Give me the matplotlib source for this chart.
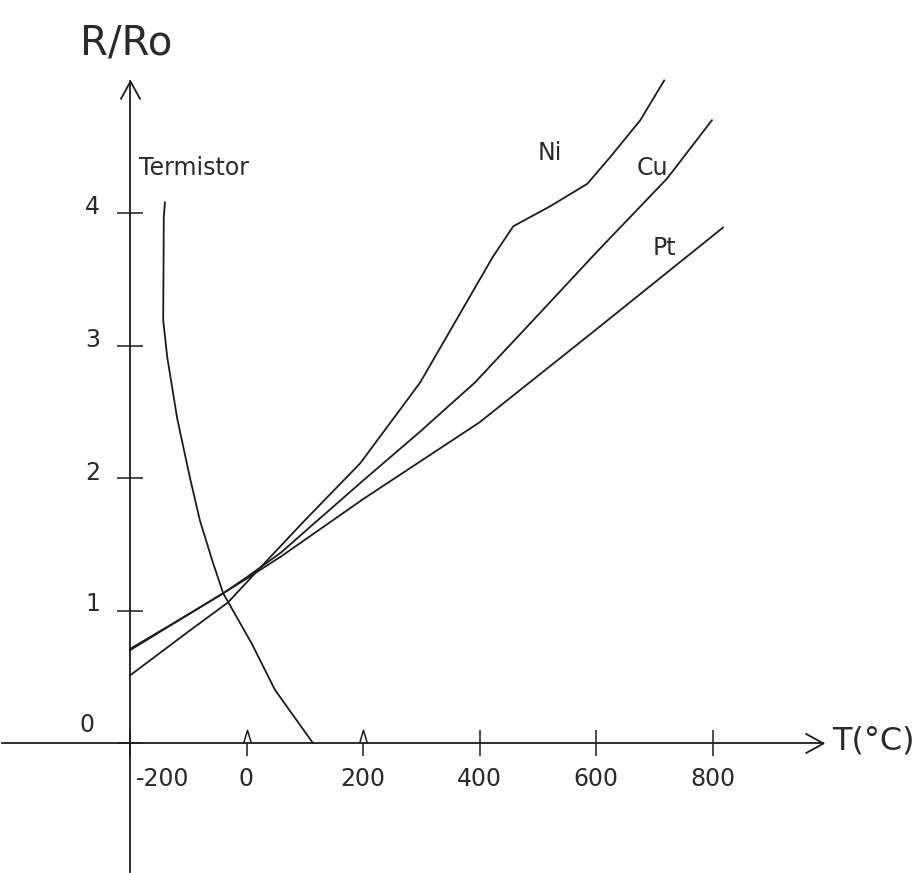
import matplotlib
matplotlib.use("Agg")
import matplotlib.pyplot as plt
from matplotlib.path import Path
from matplotlib.transforms import ScaledTranslation

# ---------------- data ----------------
pt_T = [-200, -100, -40, 0, 60, 200, 400, 600, 818]
pt_R = [0.71, 0.97, 1.13, 1.24, 1.41, 1.84, 2.42, 3.12, 3.89]

cu_T = [-200, -100, -40, 0, 60, 109, 200, 298, 392, 509, 600, 722, 799]
cu_R = [0.70, 0.97, 1.13, 1.25, 1.44, 1.63, 1.98, 2.35, 2.72, 3.27, 3.70, 4.26, 4.70]

ni_T = [-200, -100, -32, 23, 100, 195, 298, 423, 458, 521, 585, 624, 676, 717]
ni_R = [0.51, 0.84, 1.06, 1.32, 1.68, 2.11, 2.72, 3.67, 3.90, 4.05, 4.22, 4.42, 4.70, 5.00]

term_T = [-140, -142, -143, -136, -119, -97, -80, -59, -40, 9, 49, 114]
term_R = [4.08, 3.97, 3.19, 2.91, 2.45, 2.00, 1.68, 1.38, 1.13, 0.75, 0.40, 0.00]

x_major = [-200, 400, 600, 800]
x_major_labels = ["-200", "400", "600", "800"]
x_minor = [0, 200]
x_minor_labels = ["0", "200"]
y_ticks = [0, 1, 2, 3, 4]
y_labels = ["0", "1", "2", "3", "4"]

# ---------------- figure ----------------
W, H, DPI = 921, 873, 100
fig = plt.figure(figsize=(W / DPI, H / DPI), dpi=DPI)
ax = fig.add_axes([0, 0, 1, 1])
ax.set_facecolor("white")

ink = "#1c1c1c"
txt = "#2a2a2a"
lw = 1.3

# pixel mapping: x = 130 + (T+200)*0.5825 ; y = 743 - R*132.5
ax.set_xlim(-200 - 130 / 0.5825, -200 + (W - 130) / 0.5825)
ax.set_ylim(-(H - 743) / 132.5, 743 / 132.5)

for s in ["top", "right"]:
    ax.spines[s].set_visible(False)
ax.spines["left"].set_position(("data", -200))
ax.spines["bottom"].set_position(("data", 0))
ax.spines["left"].set_bounds(-0.97, 5.0)
ax.spines["bottom"].set_bounds(-420, 990)
for s in ["left", "bottom"]:
    ax.spines[s].set_color(ink)
    ax.spines[s].set_linewidth(lw)

# arrow heads (open chevrons)
chev_right = Path([(-1, -0.55), (0, 0), (-1, 0.55)], [Path.MOVETO, Path.LINETO, Path.LINETO])
chev_up = Path([(-0.55, -1), (0, 0), (0.55, -1)], [Path.MOVETO, Path.LINETO, Path.LINETO])
ax.plot([990], [0], marker=chev_right, ms=26, mfc="none", mec=ink, mew=lw, clip_on=False)
ax.plot([-200], [5.0], marker=chev_up, ms=26, mfc="none", mec=ink, mew=lw, clip_on=False)

# x ticks
ax.set_xticks(x_major)
ax.set_xticklabels(x_major_labels)
ax.set_xticks(x_minor, minor=True)
ax.set_xticklabels(x_minor_labels, minor=True)
ax.tick_params(axis="x", which="major", direction="inout", length=19, width=1.1,
               color=ink, labelsize=17, labelcolor=txt, pad=8)
ax.tick_params(axis="x", which="minor", direction="out", length=9, width=1.1,
               color=ink, labelsize=17, labelcolor=txt, pad=8.5)
caret = Path([(-0.3, 0), (0, 1), (0.3, 0)], [Path.MOVETO, Path.LINETO, Path.LINETO])
ax.plot(x_minor, [0] * len(x_minor), ls="none", marker=caret, ms=19, mfc="none",
        mec=ink, mew=1.1)
first = ax.get_xticklabels()[0]
first.set_horizontalalignment("left")
first.set_transform(first.get_transform() + ScaledTranslation(6 / DPI, 0, fig.dpi_scale_trans))

# y ticks
ax.set_yticks(y_ticks)
ax.set_yticklabels(y_labels)
ax.tick_params(axis="y", direction="inout", length=19, width=1.1, color=ink,
               labelsize=17, labelcolor=txt, pad=12)
for lab, (dx, dy) in zip(ax.get_yticklabels(), [(-6, 21), (0, 9), (0, 8), (0, 8), (0, 8)]):
    lab.set_transform(lab.get_transform() + ScaledTranslation(dx / DPI, dy / DPI, fig.dpi_scale_trans))

# curves
ax.plot(pt_T, pt_R, color=ink, lw=lw)
ax.plot(cu_T, cu_R, color=ink, lw=lw)
ax.plot(ni_T, ni_R, color=ink, lw=lw)
ax.plot(term_T, term_R, color=ink, lw=lw)

# curve labels
ax.text(-184, 4.29, "Termistor", fontsize=17, color=txt, ha="left", va="baseline")
ax.text(500, 4.40, "Ni", fontsize=17, color=txt, ha="left", va="baseline")
ax.text(670, 4.29, "Cu", fontsize=17, color=txt, ha="left", va="baseline")
ax.text(698, 3.68, "Pt", fontsize=17, color=txt, ha="left", va="baseline")

# axis titles
fig.text(80 / W, 1 - 55 / H, "R/Ro", fontsize=29, color=txt, ha="left", va="baseline")
fig.text(832 / W, 1 - 750 / H, "T(°C)", fontsize=23, color=txt, ha="left", va="baseline")

fig.savefig("out.png", dpi=DPI, facecolor="white")
